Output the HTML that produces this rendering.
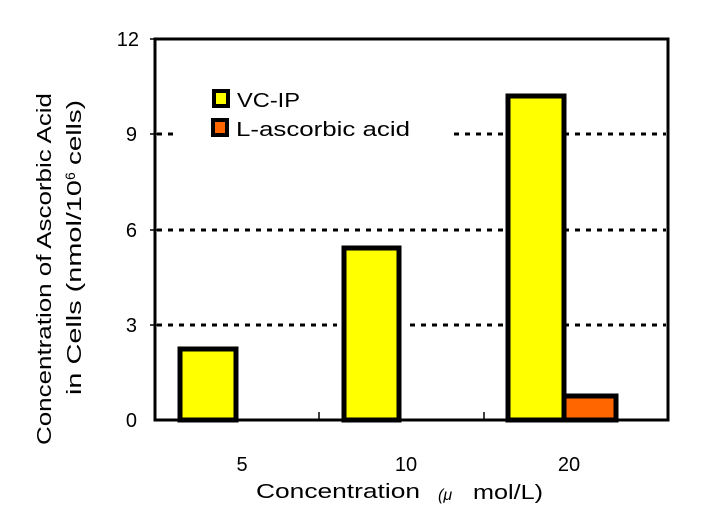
<!DOCTYPE html>
<html><head><style>body{margin:0;background:#fff}svg{display:block}text{font-family:"Liberation Sans",sans-serif;fill:#000}</style></head>
<body>
<svg width="715" height="525" xmlns="http://www.w3.org/2000/svg">
<g stroke="#000" stroke-width="3" stroke-dasharray="5,6">
<line x1="157" y1="39" x2="666" y2="39"/>
<line x1="157" y1="134" x2="666" y2="134"/>
<line x1="157" y1="230" x2="666" y2="230"/>
<line x1="157" y1="325" x2="666" y2="325"/>
</g>
<rect x="178" y="120" width="270" height="22" fill="#fff"/>
<rect x="337" y="318" width="73" height="14" fill="#fff"/>
<rect x="155" y="39" width="513" height="381" fill="none" stroke="#000" stroke-width="3"/>
<g stroke="#000" stroke-width="1.5"><line x1="319" y1="412" x2="319" y2="420"/><line x1="484" y1="412" x2="484" y2="420"/><line x1="150" y1="230" x2="157" y2="230"/><line x1="150" y1="325" x2="157" y2="325"/><line x1="150" y1="134" x2="157" y2="134"/><line x1="150" y1="39" x2="157" y2="39"/></g>
<g stroke="#000" stroke-width="5">
<rect x="180" y="349" width="56" height="71" fill="#ffff00"/>
<rect x="344" y="248" width="55" height="172" fill="#ffff00"/>
<rect x="508" y="96" width="56" height="324" fill="#ffff00"/>
<rect x="564" y="396" width="52" height="24" fill="#ff6600"/>
<rect x="214" y="91" width="14" height="15" fill="#ffff00" stroke-width="4"/>
<rect x="213" y="120" width="14" height="15" fill="#ff6600" stroke-width="4"/>
</g>
<g font-size="20" fill="#222">
<text x="237" y="107" textLength="63" lengthAdjust="spacingAndGlyphs">VC-IP</text>
<text x="236" y="136" textLength="174" lengthAdjust="spacingAndGlyphs">L-ascorbic acid</text>
</g>
<g font-size="20" text-anchor="end" fill="#333">
<text x="139" y="46">12</text><text x="137" y="141">9</text><text x="137" y="237">6</text><text x="137" y="332">3</text><text x="137" y="427">0</text>
</g>
<g font-size="20" text-anchor="middle" fill="#333">
<text x="242" y="471">5</text><text x="406" y="471">10</text><text x="569" y="471">20</text>
</g>
<text x="256" y="498" font-size="20" textLength="164" lengthAdjust="spacingAndGlyphs" fill="#333">Concentration</text>
<text x="438" y="500" font-size="16" font-style="italic">(μ</text>
<text x="473" y="499" font-size="20" textLength="70" lengthAdjust="spacingAndGlyphs" fill="#333">mol/L)</text>
<g fill="#222">
<text transform="translate(51,445) rotate(-90)" font-size="20" textLength="352" lengthAdjust="spacingAndGlyphs">Concentration of Ascorbic Acid</text>
<g transform="translate(81,0) rotate(-90)">
<text x="-395" y="0" font-size="20" textLength="215" lengthAdjust="spacingAndGlyphs">in Cells (nmol/10</text>
<text x="-180" y="-6" font-size="14">6</text>
<text x="-165" y="0" font-size="20" textLength="65" lengthAdjust="spacingAndGlyphs">cells)</text>
</g>
</g>
</svg>
</body></html>
